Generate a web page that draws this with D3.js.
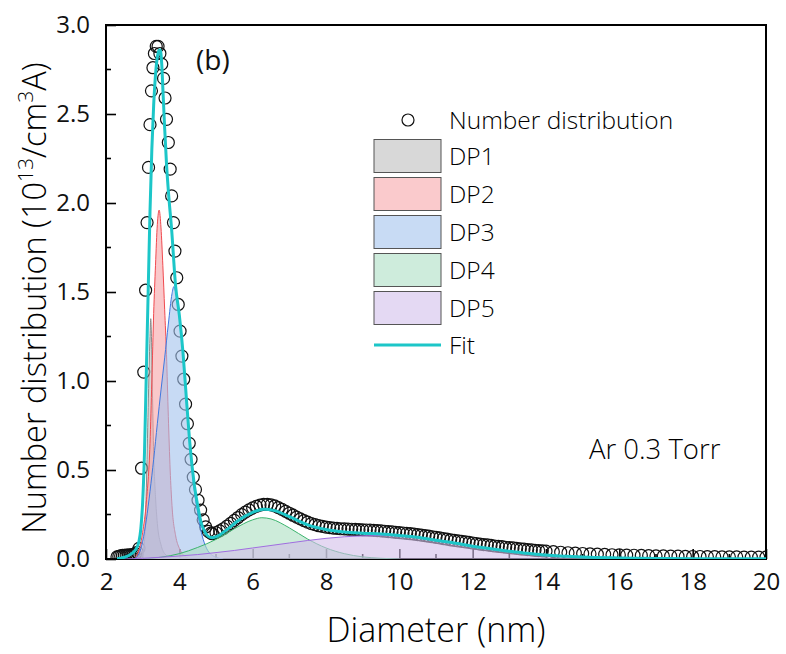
<!DOCTYPE html>
<html>
<head>
<meta charset="utf-8">
<script src="https://cdn.jsdelivr.net/npm/d3@7"></script>
<style>
  body { margin: 0; background: #fff; }
  svg text { font-family: "Open Sans", sans-serif; font-weight: 400; fill: #111; }
  svg text.light { font-weight: 300; fill: #000; }
</style>
</head>
<body>
<svg id="chart" width="786" height="654"></svg>
<script>
// measured number distribution (circles)
const dataD = [2.30,2.35,2.40,2.45,2.50,2.55,2.60,2.65,2.70,2.75,2.80,2.85,2.90,
  2.97,3.03,3.08,3.12,3.16,3.20,3.24,3.28,3.32,3.37,3.42,3.47,3.52,3.57,3.61,3.65,3.70,3.75,3.79,3.84,3.88,3.93,3.97,
  4.02,4.07,4.12,4.17,4.22,4.27,4.32,4.38,4.44,4.51,4.58,4.65,4.72,4.79,4.86,
  4.9,5.0,5.1,5.2,5.3,5.4,5.5,5.6,5.7,5.8,5.9,6.0,6.1,6.2,6.3,6.4,6.5,6.6,6.7,6.8,6.9,
  7.0,7.1,7.2,7.3,7.4,7.5,7.6,7.7,7.8,7.9,8.0,8.1,8.2,8.3,8.4,8.5,8.6,8.7,8.8,8.9,
  9.0,9.1,9.2,9.3,9.4,9.5,9.6,9.7,9.8,9.9,10.0,10.1,10.2,10.3,10.4,10.5,10.6,10.7,10.8,10.9,
  11.0,11.1,11.2,11.3,11.4,11.5,11.6,11.7,11.8,11.9,12.0,12.1,12.2,12.3,12.4,12.5,12.6,12.7,12.8,12.9,
  13.0,13.1,13.2,13.3,13.4,13.5,13.6,13.7,13.8,13.9,14.0,
  14.2,14.4,14.6,14.8,15.0,15.2,15.4,15.6,15.8,16.0,16.2,16.4,16.6,16.8,17.0,17.2,17.4,17.6,17.8,
  18.0,18.2,18.4,18.6,18.8,19.0,19.2,19.4,19.6,19.8,20.0];
const dataV = [0.012,0.015,0.018,0.020,0.021,0.022,0.022,0.023,0.024,0.026,0.030,0.038,0.060,
  0.51,1.05,1.51,1.89,2.20,2.44,2.63,2.76,2.84,2.88,2.88,2.84,2.78,2.70,2.59,2.47,2.34,2.19,2.04,1.89,1.73,1.58,1.43,
  1.28,1.14,1.01,0.87,0.76,0.65,0.56,0.46,0.39,0.33,0.275,0.22,0.18,0.155,0.145,
  0.142,0.148,0.158,0.170,0.185,0.200,0.217,0.233,0.249,0.263,0.276,0.287,0.296,0.303,0.307,0.307,0.304,0.298,0.289,0.279,0.268,
  0.257,0.246,0.235,0.225,0.216,0.207,0.199,0.193,0.187,0.183,0.179,0.176,0.174,0.172,0.170,0.169,0.168,0.167,0.166,0.165,
  0.164,0.163,0.162,0.161,0.159,0.158,0.156,0.154,0.152,0.150,0.148,0.146,0.144,0.142,0.140,0.137,0.134,0.131,0.128,0.125,
  0.122,0.119,0.115,0.112,0.108,0.105,0.102,0.099,0.096,0.093,0.090,0.087,0.084,0.081,0.079,0.076,0.073,0.071,0.069,0.066,
  0.064,0.062,0.060,0.057,0.055,0.053,0.051,0.049,0.047,0.046,0.044,
  0.041,0.038,0.035,0.033,0.031,0.029,0.027,0.026,0.024,0.023,0.022,0.021,0.020,0.019,0.018,0.017,0.016,0.016,0.015,
  0.014,0.014,0.013,0.013,0.012,0.012,0.012,0.011,0.011,0.011,0.011];

// fitted components
const dp1D = [2.95,3.05,3.10,3.15,3.20,3.22,3.24,3.27,3.30,3.35,3.40,3.50,3.60,3.80,4.00];
const dp1V = [0,0.10,0.40,0.85,1.25,1.35,1.25,0.90,0.60,0.35,0.20,0.08,0.03,0.005,0];
const dp2D = [2.8,2.9,3.0,3.1,3.2,3.25,3.3,3.35,3.4,3.45,3.5,3.55,3.6,3.65,3.7,3.75,3.8,3.9,4.0,4.1,4.3];
const dp2V = [0.01,0.05,0.15,0.32,0.65,1.0,1.38,1.65,1.88,1.96,1.86,1.65,1.40,1.15,0.80,0.50,0.30,0.13,0.06,0.025,0];
const dp3D = [2.8,2.9,3.0,3.1,3.2,3.3,3.4,3.5,3.6,3.7,3.8,3.85,3.9,4.0,4.1,4.2,4.3,4.4,4.5,4.6,4.7,4.8,4.9,5.0,5.2];
const dp3V = [0.005,0.03,0.10,0.22,0.38,0.56,0.76,0.95,1.13,1.32,1.49,1.53,1.50,1.38,1.16,0.88,0.60,0.40,0.26,0.15,0.08,0.04,0.02,0.01,0];
const dp4D = [3.0,3.5,4.0,4.5,5.0,5.5,6.0,6.25,6.5,7.0,7.5,8.0,8.5,9.0,9.5,10.0];
const dp4V = [0,0.01,0.03,0.065,0.11,0.17,0.22,0.232,0.225,0.175,0.112,0.062,0.03,0.012,0.004,0];
const dp5D = [2.5,3,3.5,4,4.5,5,5.5,6,6.5,7,7.5,8,8.5,9,9.5,10,10.5,11,11.5,12,12.5,13,13.5,14,15,16,17,18,19,20];
const dp5V = [0,0.004,0.01,0.017,0.025,0.036,0.048,0.062,0.076,0.09,0.104,0.116,0.125,0.13,0.132,0.13,0.122,0.108,0.092,0.075,
  0.06,0.046,0.034,0.024,0.012,0.006,0.003,0.0015,0.0007,0.0003];

// cumulative fit
const fitD = [2.3,2.5,2.7,2.8,2.9,2.95,3.0,3.05,3.1,3.15,3.2,3.25,3.3,3.35,3.4,3.45,3.48,3.52,3.56,3.6,3.65,3.7,3.79,3.9,
  4.0,4.1,4.2,4.3,4.4,4.5,4.6,4.7,4.8,4.9,5.0,5.3,5.6,6.0,6.3,6.6,7.0,7.5,8.0,8.5,9.0,9.5,10,10.5,11,11.5,12,12.5,13,13.5,
  14,14.5,15,16,17,18,19,20];
const fitV = [0.002,0.01,0.03,0.05,0.10,0.17,0.32,0.60,1.05,1.50,1.95,2.30,2.55,2.72,2.82,2.86,2.86,2.78,2.60,2.42,2.22,2.07,1.85,1.53,
  1.37,1.16,0.88,0.62,0.43,0.30,0.20,0.15,0.125,0.12,0.125,0.165,0.215,0.262,0.28,0.272,0.238,0.192,0.166,0.152,0.145,0.14,0.132,0.122,
  0.105,0.09,0.072,0.058,0.043,0.032,0.022,0.016,0.011,0.006,0.003,0.002,0.001,0.001];

const xTicks = [2,4,6,8,10,12,14,16,18,20];
const yTicks = [0,0.5,1.0,1.5,2.0,2.5,3.0];

const comps = [
  {name: "DP1", d: dp1D, v: dp1V, fill: "rgb(188,188,188)", stroke: "#8a8a8a", key: "rgb(216,216,216)"},
  {name: "DP2", d: dp2D, v: dp2V, fill: "rgb(247,163,167)", stroke: "#f04a4f", key: "rgb(250,202,204)"},
  {name: "DP3", d: dp3D, v: dp3V, fill: "rgb(162,193,237)", stroke: "#3f78e0", key: "rgb(200,219,244)"},
  {name: "DP4", d: dp4D, v: dp4V, fill: "rgb(172,223,193)", stroke: "#3cb46e", key: "rgb(206,236,220)"},
  {name: "DP5", d: dp5D, v: dp5V, fill: "rgb(210,190,233)", stroke: "#a06ee0", key: "rgb(228,217,243)"}
];

const margin = {top: 25, right: 20, bottom: 95, left: 106};
const W = 786, H = 654;
const x = d3.scaleLinear().domain([2, 20]).range([margin.left, W - margin.right]);
const y = d3.scaleLinear().domain([0, 3]).range([H - margin.bottom, margin.top]);

const svg = d3.select("#chart");
svg.append("defs").append("clipPath").attr("id", "plot")
  .append("rect").attr("x", x(2)).attr("y", y(3)).attr("width", x(20) - x(2)).attr("height", y(0) - y(3));

// axes (ticks point inward)
const xAxis = svg.append("g").attr("transform", `translate(0,${y(0)})`)
  .call(d3.axisBottom(x).tickValues(xTicks).tickSize(-10).tickPadding(14).tickFormat(d3.format("d")))
  .call(g => g.select(".domain").remove());
xAxis.selectAll(".tick line").attr("stroke", "#000").attr("stroke-width", 1.6);
xAxis.selectAll(".tick text").attr("font-size", 24).attr("font-family", "Open Sans").attr("fill", "#111");
svg.append("g").selectAll("line").data(d3.range(3, 20, 2)).join("line")
  .attr("x1", d => x(d)).attr("x2", d => x(d)).attr("y1", y(0)).attr("y2", y(0) - 5)
  .attr("stroke", "#000").attr("stroke-width", 1.6);

const yAxis = svg.append("g").attr("transform", `translate(${x(2)},0)`)
  .call(d3.axisLeft(y).tickValues(yTicks).tickSize(-10).tickPadding(16).tickFormat(d3.format(".1f")))
  .call(g => g.select(".domain").remove());
yAxis.selectAll(".tick line").attr("stroke", "#000").attr("stroke-width", 1.6);
yAxis.selectAll(".tick text").attr("font-size", 24).attr("font-family", "Open Sans").attr("fill", "#111");
svg.append("g").selectAll("line").data(d3.range(0.25, 3, 0.5)).join("line")
  .attr("x1", x(2)).attr("x2", x(2) + 5).attr("y1", d => y(d)).attr("y2", d => y(d))
  .attr("stroke", "#000").attr("stroke-width", 1.6);

// frame
svg.append("rect").attr("x", x(2)).attr("y", y(3)).attr("width", x(20) - x(2)).attr("height", y(0) - y(3))
  .attr("fill", "none").attr("stroke", "#000").attr("stroke-width", 2);

const plot = svg.append("g").attr("clip-path", "url(#plot)");

// circles under the shaded components
plot.append("g").selectAll("circle").data(dataD).join("circle")
  .attr("cx", d => x(d)).attr("cy", (d, i) => y(dataV[i])).attr("r", 6)
  .attr("fill", "none").attr("stroke", "#111").attr("stroke-width", 1.2);

const area = d3.area().curve(d3.curveMonotoneX);
const line = d3.line().curve(d3.curveMonotoneX);
comps.forEach(c => {
  const pts = c.d.map((d, i) => [x(d), y(c.v[i])]);
  plot.append("path").attr("d", area.x(p => p[0]).y0(y(0)).y1(p => p[1])(pts))
    .attr("fill", c.fill).attr("fill-opacity", 0.6);
  plot.append("path").attr("d", line(pts))
    .attr("fill", "none").attr("stroke", c.stroke).attr("stroke-width", 1);
});

plot.append("path")
  .attr("d", line(fitD.map((d, i) => [x(d), y(fitV[i])])))
  .attr("fill", "none").attr("stroke", "#1cc6c8").attr("stroke-width", 3);

// axis titles
svg.append("text").attr("class", "light").attr("x", (x(2) + x(20)) / 2).attr("y", 642).attr("text-anchor", "middle")
  .attr("font-size", 34).text("Diameter (nm)");
const yt = svg.append("text").attr("class", "light").attr("transform", "translate(46,298) rotate(-90)")
  .attr("text-anchor", "middle").attr("font-size", 32.5);
yt.append("tspan").text("Number distribution (10");
yt.append("tspan").attr("font-size", 21).attr("dy", -13).text("13");
yt.append("tspan").attr("dy", 13).text("/cm");
yt.append("tspan").attr("font-size", 21).attr("dy", -13).text("3");
yt.append("tspan").attr("dy", 13).text("A)");

// annotations
svg.append("text").attr("x", 196).attr("y", 70).attr("font-size", 28).text("(b)");
svg.append("text").attr("class", "light").attr("x", 589).attr("y", 459).attr("font-size", 27.5).text("Ar 0.3 Torr");

// legend
const lg = svg.append("g");
const rowY = [120, 156, 194, 232, 270, 308, 345];
const lx = 374, tx = 449;
lg.append("circle").attr("cx", 408).attr("cy", rowY[0]).attr("r", 6)
  .attr("fill", "none").attr("stroke", "#111").attr("stroke-width", 1.2);
lg.append("text").attr("class", "light").attr("x", tx).attr("y", rowY[0]).attr("dy", "0.35em").attr("font-size", 24.5).text("Number distribution");
comps.forEach((c, i) => {
  const cy = rowY[i + 1];
  lg.append("rect").attr("x", lx).attr("y", cy - 16.5).attr("width", 67).attr("height", 33)
    .attr("fill", c.key).attr("stroke", "#555").attr("stroke-width", 1);
  lg.append("text").attr("class", "light").attr("x", tx).attr("y", cy).attr("dy", "0.35em").attr("font-size", 24.5).text(c.name);
});
lg.append("line").attr("x1", lx).attr("x2", lx + 67).attr("y1", rowY[6]).attr("y2", rowY[6])
  .attr("stroke", "#1cc6c8").attr("stroke-width", 3);
lg.append("text").attr("class", "light").attr("x", tx).attr("y", rowY[6]).attr("dy", "0.35em").attr("font-size", 24.5).text("Fit");
</script>
</body>
</html>
